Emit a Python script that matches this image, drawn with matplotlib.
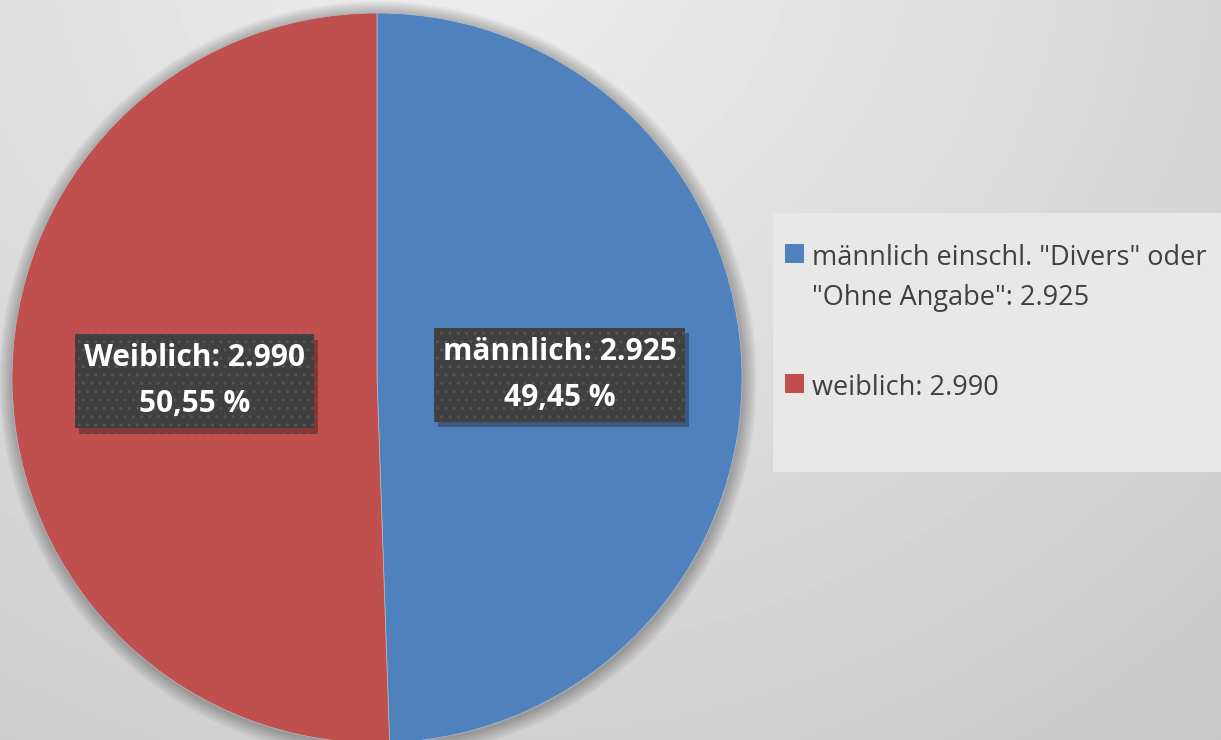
import matplotlib
matplotlib.use('Agg')
import matplotlib.pyplot as plt
import matplotlib.patheffects as pe
from matplotlib.patches import Circle, Rectangle
import numpy as np

# data
labels = ['männlich', 'Weiblich']
legend_labels = ['männlich einschl. "Divers" oder\n"Ohne Angabe": 2.925', 'weiblich: 2.990']
values = [2925, 2990]
colors = ['#4f81bd', '#c0504d']

plt.rcParams['font.family'] = ['Open Sans', 'DejaVu Sans']
plt.rcParams['hatch.linewidth'] = 0.9

W, H = 1221, 740
fig = plt.figure(figsize=(W / 100, H / 100), dpi=100)

# background gradient
bg = fig.add_axes([0, 0, 1, 1])
yy, xx = np.mgrid[0:H, 0:W]
d = np.sqrt(((xx - 480) / 1000.0) ** 2 + ((yy + 60) / 900.0) ** 2)
g = np.clip(0.935 - 0.13 * d, 0.78, 0.95)
bg.imshow(g, cmap='gray', vmin=0, vmax=1, extent=[0, W, 0, H], aspect='auto')
bg.axis('off')

ax = fig.add_axes([0, 0, 1, 1])
cx, cy, r = 377, H - 378, 365

# soft shadow around the pie
for i in range(14):
    ax.add_patch(Circle((cx + 1, cy - 2), r + 14 - i, color='black', alpha=0.018, lw=0))

wedges, _ = ax.pie(values, colors=colors, startangle=90, counterclock=False,
                   center=(cx, cy), radius=r, frame=True,
                   wedgeprops=dict(linewidth=0.5, edgecolor='#b4bcc6'))
ax.set_xlim(0, W)
ax.set_ylim(0, H)
ax.set_aspect('equal')
ax.axis('off')

total = sum(values)
for w, lab, v in zip(wedges, labels, values):
    ang = np.deg2rad((w.theta1 + w.theta2) / 2)
    x = cx + 0.5 * r * np.cos(ang)
    y = cy + 0.5 * r * np.sin(ang)
    pct = f'{100 * v / total:.2f}'.replace('.', ',')
    t = ax.text(x, y, f'{lab}: {v / 1000:.3f}\n{pct} %', ha='center', va='center',
                color='white', fontsize=21.5, fontweight='bold', linespacing=1.7,
                bbox=dict(boxstyle='square,pad=0.3', fc='#404040', ec='#565656',
                          lw=0, hatch='..'))
    t.get_bbox_patch().set_path_effects([
        pe.SimplePatchShadow(offset=(3, -4), shadow_rgbFace='black', alpha=0.3),
        pe.Normal()])

# legend background panel
ax.add_patch(Rectangle((773, H - 472), 460, 259, color='#e8e8e8', lw=0, zorder=0.5))

leg = ax.legend(wedges, legend_labels, loc='upper left',
                bbox_to_anchor=(761 / W, (H - 220) / H), bbox_transform=fig.transFigure,
                frameon=False, fontsize=19.5, labelcolor='#404040',
                handlelength=0.7, handleheight=0.7, handletextpad=0.3,
                labelspacing=2.3)
for t in leg.get_texts():
    t.set_linespacing(1.55)
for h in leg.legend_handles:
    h.set_edgecolor('none')
# put each handle next to the first line of its label
for row in leg._legend_handle_box.get_children()[0].get_children():
    row.align = 'top'
    row.get_children()[0].set_offset((0, -6))

fig.savefig('out.png', dpi=100)
